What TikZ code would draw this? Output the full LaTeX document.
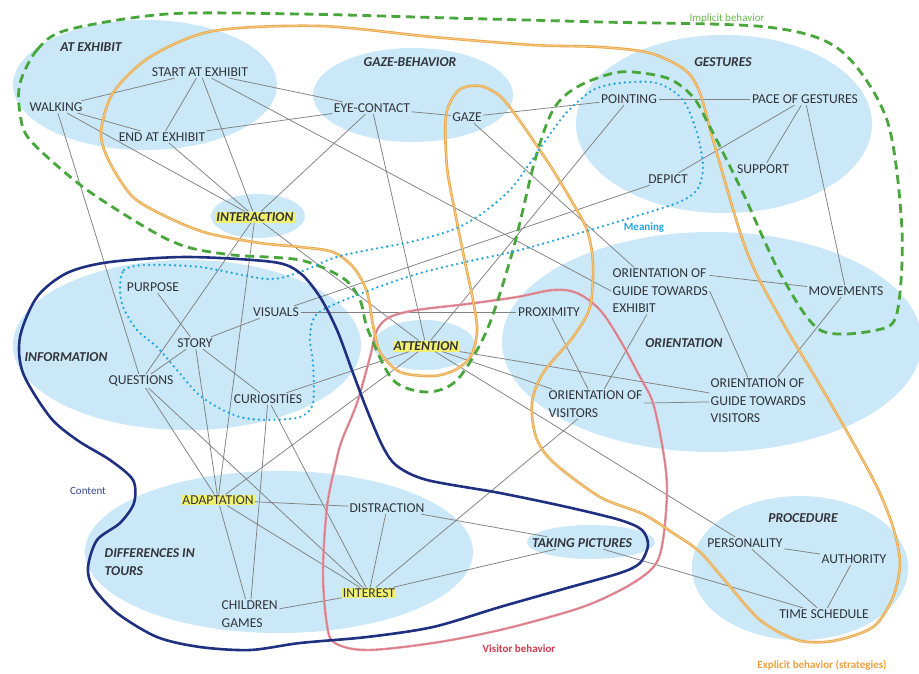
\documentclass[tikz,border=0pt]{standalone}
\usepackage{fontspec}
\setmainfont{Carlito}
\usetikzlibrary{shapes.geometric}

\definecolor{cloud}{RGB}{202,232,247}
\definecolor{ink}{RGB}{50,52,58}
\definecolor{wire}{RGB}{128,128,128}
\definecolor{implicitgreen}{RGB}{72,166,60}
\definecolor{implicitlabel}{RGB}{110,185,80}
\definecolor{explicitorange}{RGB}{234,166,72}
\definecolor{explicitcore}{RGB}{246,206,140}
\definecolor{explicitlabel}{RGB}{236,160,60}
\definecolor{contentblue}{RGB}{32,48,128}
\definecolor{contentlabel}{RGB}{55,70,140}
\definecolor{visitorred}{RGB}{228,150,160}
\definecolor{visitorgrain}{RGB}{205,95,110}
\definecolor{visitorlabel}{RGB}{205,60,75}
\definecolor{meaningcyan}{RGB}{35,165,222}
\definecolor{hilite}{RGB}{242,240,112}

\begin{document}
\begin{tikzpicture}[x=1pt,y=-1pt,
  area/.style={ellipse, fill=cloud, draw=none, inner sep=0pt},
  term/.style={text=ink, font=\fontsize{13.6}{17.5}\selectfont, inner sep=1.5pt, align=left},
  group/.style={text=ink, font=\fontsize{13.6}{17.5}\selectfont\bfseries\itshape, inner sep=1.5pt, align=left},
  marked/.style={fill=hilite, inner sep=1pt},
  tag/.style={font=\fontsize{11}{13}\selectfont\bfseries, inner sep=1pt},
  link/.style={draw=wire, line width=0.75pt},
  implicitline/.style={draw=implicitgreen, line width=2.8pt, dash pattern=on 9pt off 5.5pt},
  explicitline/.style={draw=explicitorange, line width=2.6pt},
  explicitcoreline/.style={draw=explicitcore, line width=0.8pt},
  contentline/.style={draw=contentblue, line width=2.6pt},
  visitorline/.style={draw=visitorred, line width=2.4pt},
  visitorgrainline/.style={draw=visitorgrain, line width=0.9pt, dash pattern=on 0.8pt off 0.9pt},
  meaningline/.style={draw=meaningcyan, line width=2.6pt, dash pattern=on 0pt off 5.2pt, line cap=round}
]
\useasboundingbox (0,0) rectangle (919,673);
\fill[white] (0,0) rectangle (919,673);

% theme areas
\node[area, minimum width=264pt, minimum height=130pt] (a-atx) at (145,85) {};
\node[area, minimum width=200pt, minimum height=94pt] (a-gaze) at (413,95) {};
\node[area, minimum width=296pt, minimum height=178pt] (a-gest) at (724,124) {};
\node[area, minimum width=94pt, minimum height=44pt] (a-inter) at (258,216) {};
\node[area, minimum width=348pt, minimum height=170pt] (a-info) at (187,345) {};
\node[area, minimum width=102pt, minimum height=50pt] (a-attn) at (424,345) {};
\node[area, minimum width=420pt, minimum height=220pt] (a-orient) at (712,342) {};
\node[area, minimum width=388pt, minimum height=162pt] (a-diff) at (279,552) {};
\node[area, minimum width=128pt, minimum height=34pt] (a-pics) at (591,542) {};
\node[area, minimum width=216pt, minimum height=144pt] (a-proc) at (800,568) {};

% theme titles
\node[group] (t-atx) at (91,47) {AT EXHIBIT};
\node[group] (t-gaze) at (410,62) {GAZE-BEHAVIOR};
\node[group] (t-gest) at (723,62) {GESTURES};
\node[group] (t-info) at (66,357) {INFORMATION};
\node[group] (t-orient) at (684,343) {ORIENTATION};
\node[group, anchor=west] (t-diff) at (103,562) {DIFFERENCES IN\\TOURS};
\node[group] (t-proc) at (803,518) {PROCEDURE};

% codes
\node[term] (walk) at (56,107) {WALKING};
\node[term] (start) at (200,72) {START AT EXHIBIT};
\node[term] (endx) at (162,137) {END AT EXHIBIT};
\node[group, marked] (inter) at (255,217) {INTERACTION};
\node[term] (eye) at (372,108) {EYE-CONTACT};
\node[term] (gaze) at (467,117) {GAZE};
\node[term] (point) at (629,99) {POINTING};
\node[term] (pace) at (805,99) {PACE OF GESTURES};
\node[term] (support) at (763,169) {SUPPORT};
\node[term] (depict) at (668,179) {DEPICT};
\node[term] (purpose) at (153,287) {PURPOSE};
\node[term] (visuals) at (276,312) {VISUALS};
\node[term] (story) at (195,343) {STORY};
\node[term] (quest) at (141,381) {QUESTIONS};
\node[term] (curio) at (268,399) {CURIOSITIES};
\node[term] (prox) at (549,312) {PROXIMITY};
\node[group, marked] (attn) at (426,346) {ATTENTION};
\node[term, anchor=west] (ov) at (547,404) {ORIENTATION OF\\VISITORS};
\node[term, anchor=west] (ogte) at (611,291) {ORIENTATION OF\\GUIDE TOWARDS\\EXHIBIT};
\node[term] (move) at (846,291) {MOVEMENTS};
\node[term, anchor=west] (ogtv) at (709,401) {ORIENTATION OF\\GUIDE TOWARDS\\VISITORS};
\node[term, marked] (adapt) at (218,500) {ADAPTATION};
\node[term, anchor=west] (children) at (220,614) {CHILDREN\\GAMES};
\node[term] (distr) at (387,508) {DISTRACTION};
\node[group] (pics) at (582,543) {TAKING PICTURES};
\node[term, marked] (interest) at (369,593) {INTEREST};
\node[term] (pers) at (745,543) {PERSONALITY};
\node[term] (auth) at (854,559) {AUTHORITY};
\node[term] (time) at (824,614) {TIME SCHEDULE};

% connections between codes
\foreach \p/\q in {walk/start, walk/endx, walk/inter, walk/quest,
  start/endx, start/inter, start/eye,
  endx/eye, endx/inter, eye/inter, eye/gaze, eye/attn,
  gaze/point, gaze/ogte, point/pace, point/attn,
  pace/support, pace/depict, pace/move, depict/visuals,
  inter/attn, inter/quest, inter/adapt,
  purpose/story, story/visuals, story/quest, story/curio, story/adapt,
  quest/adapt, quest/interest, visuals/prox,
  curio/attn, curio/children, curio/interest,
  attn/adapt, attn/ov, attn/ogtv, attn/pers,
  prox/ov, ogte/ov, move/ogtv, ov/ogtv, ov/interest,
  adapt/distr, adapt/interest, adapt/children,
  distr/interest, distr/pics, interest/pics, children/interest,
  pics/time, pers/auth, pers/time, auth/time}
  \draw[link] (\p) -- (\q);
\draw[link] (start) -- (ogte.west);
\draw[link] ([yshift=-8pt]ogte.north east) -- (move);
\draw[link] (ogte.east) -- (ogtv);

% visitor behavior
\def\visitorpath{plot[smooth cycle, tension=0.55] coordinates {
  (342,440) (357,403) (370,357) (377,330) (390,317) (417,310) (467,304)
  (517,297) (553,290) (577,293) (600,310) (620,340) (640,377) (653,403)
  (663,450) (667,490) (663,540) (655,565) (633,583) (600,600) (567,612)
  (500,630) (433,643) (367,650) (335,643) (327,625) (323,573) (327,507) (336,462)}}
\draw[visitorline] \visitorpath;
\draw[visitorgrainline] \visitorpath;

% explicit behavior (strategies)
\def\explicitpath{plot[smooth cycle, tension=0.5] coordinates {
  (320,26) (433,37) (533,45) (600,47) (650,53) (685,70) (700,93) (713,140)
  (740,232) (757,275) (787,330) (817,380) (850,437) (877,487) (893,527)
  (900,563) (893,597) (873,627) (833,641) (797,640) (760,620) (727,583)
  (700,552) (673,533) (643,514) (600,497) (553,462) (536,437) (532,403)
  (543,373) (573,337) (590,307) (593,263) (587,230) (571,200) (553,170)
  (533,140) (517,117) (500,96) (480,86) (459,90) (446,115) (447,167)
  (455,212) (465,262) (474,305) (477,332) (471,356) (455,370) (433,376)
  (400,372) (380,352) (373,325) (367,292) (354,268) (333,252) (300,247)
  (260,243) (207,233) (167,217) (133,197) (110,163) (101,133) (113,93)
  (150,57) (213,31)}}
\draw[explicitline] \explicitpath;
\draw[explicitcoreline] \explicitpath;

% implicit behavior
\draw[implicitline] plot[smooth cycle, tension=0.5] coordinates {
  (20,83) (37,50) (67,30) (167,14) (300,14) (450,18) (600,22) (767,27)
  (840,50) (887,120) (902,230) (897,313) (877,330) (820,330) (780,273)
  (743,193) (710,127) (693,97) (667,78) (620,72) (577,87) (553,110)
  (535,160) (513,250) (487,330) (457,380) (427,392) (393,380) (368,330)
  (360,300) (343,278) (300,260) (233,255) (187,247) (150,230) (83,187)
  (30,140) (20,113)};

% meaning
\draw[meaningline] plot[smooth cycle, tension=0.5] coordinates {
  (120,287) (124,270) (145,265) (200,267) (267,279) (300,272) (340,256)
  (410,242) (452,230) (480,215) (510,190) (530,163) (548,137) (567,112)
  (593,90) (620,83) (657,83) (683,100) (697,133) (703,167) (697,190)
  (677,203) (633,217) (590,230) (520,250) (470,261) (417,274) (365,292)
  (318,313) (310,337) (313,363) (313,403) (300,417) (267,420) (240,417)
  (217,407) (197,393) (177,370) (157,347) (137,330) (123,307)};

% content
\draw[contentline] plot[smooth cycle, tension=0.5] coordinates {
  (23,373) (20,337) (37,297) (67,273) (110,262) (187,257) (273,262)
  (300,273) (320,297) (337,330) (353,373) (367,410) (383,447) (397,466)
  (427,480) (500,493) (567,507) (620,520) (642,530) (648,545) (640,563)
  (620,573) (567,588) (500,607) (433,627) (367,637) (300,643) (250,650)
  (200,647) (157,637) (117,613) (93,587) (88,567) (97,540) (120,523)
  (134,503) (133,480) (110,460) (77,440) (50,417)};

% outline captions
\node[tag, text=implicitlabel, font=\fontsize{11}{13}\selectfont] (l-implicit) at (727,19) {Implicit behavior};
\node[tag, text=meaningcyan] (l-meaning) at (644,228) {Meaning};
\node[tag, text=contentlabel, font=\fontsize{11}{13}\selectfont] (l-content) at (88,491) {Content};
\node[tag, text=visitorlabel] (l-visitor) at (519,649) {Visitor behavior};
\node[tag, text=explicitlabel] (l-explicit) at (822,665) {Explicit behavior (strategies)};
\end{tikzpicture}
\end{document}
